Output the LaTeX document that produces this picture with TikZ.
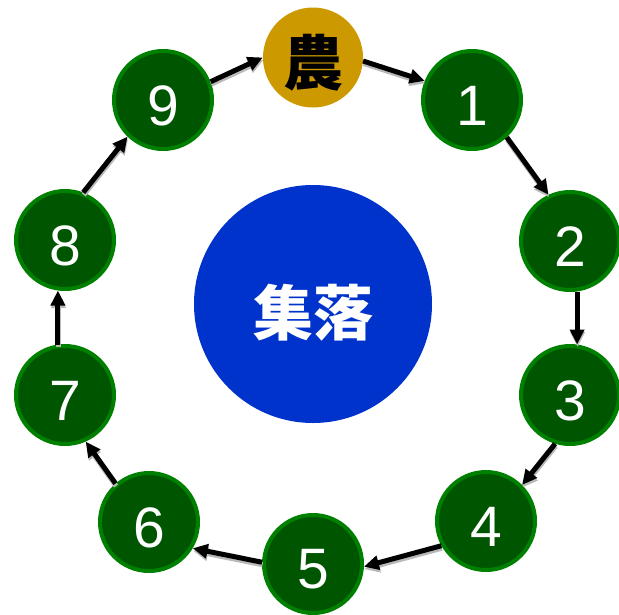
\documentclass[tikz,border=0pt]{standalone}
\usepackage{fontspec}
\setmainfont{Liberation Sans}
\newfontfamily\cjk{Noto Sans CJK JP}
\usetikzlibrary{arrows.meta}
\definecolor{gfill}{RGB}{0,85,0}
\definecolor{gline}{RGB}{0,128,0}
\definecolor{gold}{RGB}{204,153,0}
\definecolor{cblue}{RGB}{0,51,204}
\tikzset{
  gnode/.style={circle, fill=gfill, draw=gline, line width=4pt, minimum size=98pt, inner sep=0pt},
  farm/.style={circle, fill=gold, minimum size=100pt, inner sep=0pt},
  village/.style={circle, fill=cblue, minimum size=238pt, inner sep=0pt},
  digit/.style={text=white, font=\fontsize{57}{57}\selectfont, inner sep=0pt},
  kanji/.style={font=\cjk\bfseries\fontsize{60}{60}\selectfont, inner sep=0pt},
  arr/.style={line width=5pt, -{Triangle[length=15pt,width=14pt]},
    preaction={draw=gray!55, line width=5pt, -{Triangle[length=15pt,width=14pt]}, transform canvas={shift={(0.5pt,-2.5pt)}}}}
}
\begin{document}
\begin{tikzpicture}[x=1pt,y=-1pt]
\useasboundingbox (0,0) rectangle (619,614);
\node[village] (v) at (313,304) {};
\node[kanji, text=white] (tv) at ([yshift=-9pt]v.center) {集落};
\node[farm] (nN) at (313,57.5) {};
\node[kanji, text=black] (tN) at ([yshift=-5pt]nN.center) {農};
\node[gnode] (n1) at (472,100) {};
\node[gnode] (n2) at (570,241) {};
\node[gnode] (n3) at (570,395) {};
\node[gnode] (n4) at (486,521) {};
\node[gnode] (n5) at (313,564) {};
\node[gnode] (n6) at (149,522) {};
\node[gnode] (n7) at (65,395) {};
\node[gnode] (n8) at (65,240) {};
\node[gnode] (n9) at (163,100) {};
\foreach \i in {1,...,9} {
  \node[digit] (t\i) at ([yshift=-5.5pt]n\i.center) {\i};
}
\draw[arr] (nN.-4) -- (n1.158);
\draw[arr] (n1.-47) -- (n2.115);
\draw[arr] (n2.-82) -- (n3.82);
\draw[arr] (n3.-107) -- (n4.45);
\draw[arr] (n4.-151) -- (n5.-3);
\draw[arr] (n5.178) -- (n6.-31);
\draw[arr] (n6.131) -- (n7.-66);
\draw[arr] (n7.98) -- (n8.-98);
\draw[arr] (n8.69) -- (n9.-134);
\draw[arr] (n9.21) -- (nN.180);
\end{tikzpicture}
\end{document}
